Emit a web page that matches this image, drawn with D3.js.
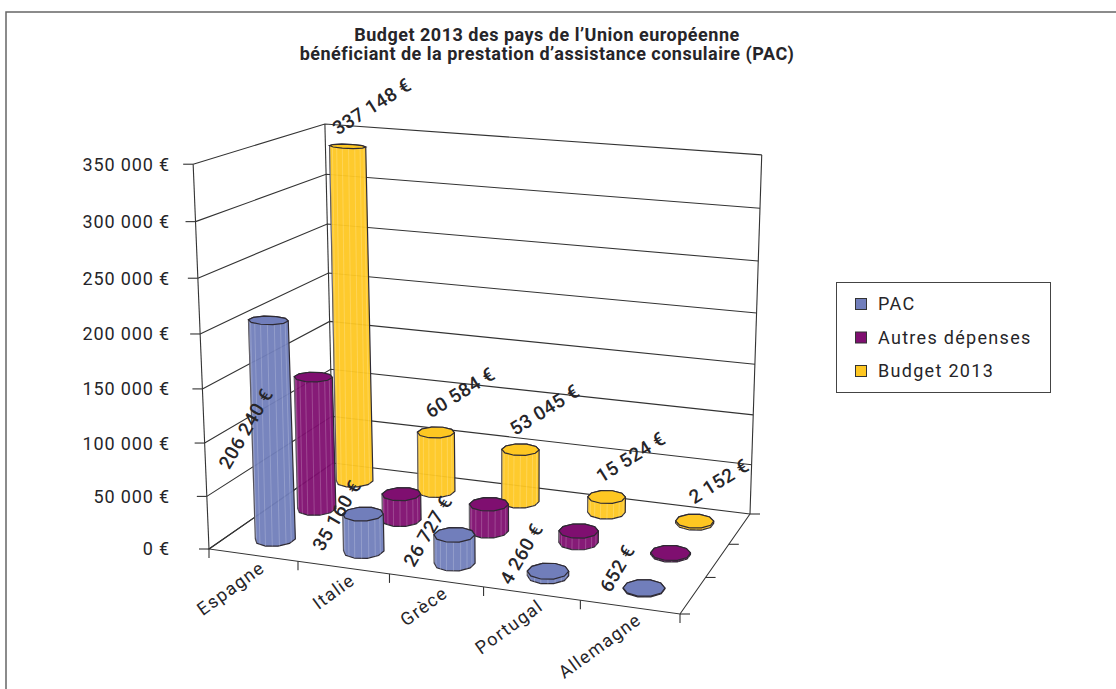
<!DOCTYPE html>
<html>
<head>
<meta charset="utf-8">
<script src="https://cdnjs.cloudflare.com/ajax/libs/d3/7.8.5/d3.min.js"></script>
<style>
  html, body { margin: 0; padding: 0; background: #fff; }
  svg { display: block; }
  text { font-family: Roboto, sans-serif; fill: #262529; }
</style>
</head>
<body>
<div id="chart"></div>
<script>
const titleLines = ["Budget 2013 des pays de l’Union européenne", "bénéficiant de la prestation d’assistance consulaire (PAC)"];
const countries = ["Espagne", "Italie", "Grèce", "Portugal", "Allemagne"];
const seriesNames = ["PAC", "Autres dépenses", "Budget 2013"];
const pacValues = [206240, 35160, 26727, 4260, 652];
const autresValues = [130908, 25424, 26318, 11264, 1500];
const budgetValues = [337148, 60584, 53045, 15524, 2152];
const seriesValues = [pacValues, autresValues, budgetValues];
const seriesColors = ["#717ebb", "#7f0f70", "#fec722"];
const valueTicks = [0, 50000, 100000, 150000, 200000, 250000, 300000, 350000];

const width = 1116, height = 689;
const euro = d => d3.format(",")(d).replace(/,/g, " ") + " €";

const svg = d3.select("#chart").append("svg").attr("width", width).attr("height", height);

// frame, no right or bottom side in the original
svg.append("path").attr("d", "M6,689V12H1116").attr("fill", "none").attr("stroke", "#666").attr("stroke-width", 1.5);

svg.append("g").selectAll("text").data(titleLines).join("text")
  .attr("x", 547).attr("y", (d, i) => 41 + i * 19)
  .attr("text-anchor", "middle")
  .attr("font-size", 18).attr("font-weight", 700).attr("letter-spacing", 0.5)
  .text(d => d);

// scales give chart space: u along countries, v into the depth, w up
const uScale = d3.scaleBand().domain(countries).range([0, 1]);
const vScale = d3.scaleBand().domain(seriesNames).range([0, 1]);
const wScale = d3.scaleLinear().domain([0, 350000]).range([0, 1]);

// floor corners on the page, the rest of the perspective follows from them
const f0 = [209, 549], f1 = [680, 614], f2 = [750, 514], f3 = [333, 463];
const dx1 = f1[0] - f2[0], dx2 = f3[0] - f2[0], sx = f0[0] - f1[0] + f2[0] - f3[0];
const dy1 = f1[1] - f2[1], dy2 = f3[1] - f2[1], sy = f0[1] - f1[1] + f2[1] - f3[1];
const det = dx1 * dy2 - dx2 * dy1;
const g = (sx * dy2 - dx2 * sy) / det;
const h = (dx1 * sy - sx * dy1) / det;
const pu = [f1[0] - f0[0] + g * f1[0], f1[1] - f0[1] + g * f1[1], g];
const pv = [f3[0] - f0[0] + h * f3[0], f3[1] - f0[1] + h * f3[1], h];
const pw = [-25.5, -393, -0.05];

function project(u, v, w) {
  const d = 1 + pu[2] * u + pv[2] * v + pw[2] * w;
  return [
    (f0[0] + pu[0] * u + pv[0] * v + pw[0] * w) / d,
    (f0[1] + pu[1] * u + pv[1] * v + pw[1] * w) / d
  ];
}

const line = d3.line();
const walls = svg.append("g").attr("fill", "none").attr("stroke", "#333").attr("stroke-width", 1.1);

// walls and gridlines
valueTicks.forEach(t => {
  const w = wScale(t);
  walls.append("path").attr("d", line([project(0, 0, w), project(0, 1, w), project(1, 1, w)]));
  const a = project(0, 0, w);
  walls.append("path").attr("d", line([a, [a[0] - 10, a[1]]]));
});
[[0, 0], [0, 1], [1, 1]].forEach(c => {
  walls.append("path").attr("d", line([project(c[0], c[1], 0), project(c[0], c[1], 1)]));
});

// floor edges and ticks
walls.append("path").attr("d", line([project(0, 1, 0), project(0, 0, 0), project(1, 0, 0), project(1, 1, 0)]));
d3.range(countries.length + 1).forEach(i => {
  const a = project(i / countries.length, 0, 0);
  walls.append("path").attr("d", line([a, [a[0], a[1] + 9]]));
});
d3.range(seriesNames.length + 1).forEach(i => {
  const a = project(1, i / seriesNames.length, 0);
  walls.append("path").attr("d", line([a, [a[0] + 10, a[1]]]));
});

svg.append("g").selectAll("text").data(valueTicks).join("text")
  .attr("x", 170).attr("y", d => project(0, 0, wScale(d))[1])
  .attr("dy", "0.36em").attr("text-anchor", "end")
  .attr("font-size", 18).attr("letter-spacing", 0.85)
  .text(euro);

svg.append("g").selectAll("text").data(countries).join("text")
  .attr("text-anchor", "end").attr("dy", "0.36em")
  .attr("font-size", 18).attr("letter-spacing", 1.3)
  .attr("transform", d => {
    const p = project(uScale(d) + uScale.bandwidth() / 2, 0, 0);
    return `translate(${p[0] + 9},${p[1] + 10}) rotate(-36)`;
  })
  .text(d => d);

// cylinders, back row first
const ru = 0.041, rv = 0.075, sides = 10, stripes = 18;
const ring = d3.range(sides).map(i => (i + 0.5) / sides * 2 * Math.PI);
const stripeRing = d3.range(stripes).map(i => (i + 0.5) / stripes * 2 * Math.PI).filter(t => Math.sin(t) < 0);

const bars = svg.append("g");
[2, 1, 0].forEach(s => {
  countries.forEach((name, c) => {
    const cu = uScale(name) + uScale.bandwidth() / 2;
    const cv = vScale(seriesNames[s]) + vScale.bandwidth() / 2;
    const top = wScale(seriesValues[s][c]);
    // caps look flatter higher up in the original than the projection alone gives
    const at = (t, w) => project(cu + ru * Math.cos(t), cv + rv * (1 - 0.4 * w) * Math.sin(t), w);
    const low = ring.map(t => at(t, 0)), high = ring.map(t => at(t, top));
    const bar = bars.append("g");
    bar.append("path")
      .attr("d", line(d3.polygonHull(low.concat(high))) + "Z")
      .attr("fill", seriesColors[s]).attr("fill-opacity", 0.95)
      .attr("stroke", "#2e2a33").attr("stroke-width", 1.2);
    stripeRing.forEach(t => {
      bar.append("path").attr("d", line([at(t, 0), at(t, top)]))
        .attr("stroke", "#fff").attr("stroke-opacity", 0.25).attr("stroke-width", 0.8);
    });
    bar.append("path")
      .attr("d", line(high) + "Z")
      .attr("fill", seriesColors[s])
      .attr("stroke", "#2e2a33").attr("stroke-width", 1.2);
  });
});

// value labels, only the first and last series have them
const labelFont = t => t.attr("font-size", 19).attr("font-weight", 500).attr("letter-spacing", 0.4)
  .attr("text-anchor", "middle").attr("dy", "0.36em");

svg.append("g").selectAll("text").data(countries).join("text")
  .call(labelFont)
  .attr("transform", (d, i) => {
    const p = project(uScale(d) + uScale.bandwidth() / 2, vScale(seriesNames[2]) + vScale.bandwidth() / 2, wScale(budgetValues[i]));
    return `translate(${p[0] + 24},${p[1] - 40}) rotate(-32)`;
  })
  .text((d, i) => euro(budgetValues[i]));

svg.append("g").selectAll("text").data(countries).join("text")
  .call(labelFont)
  .attr("transform", (d, i) => {
    const p = project(uScale(d) + uScale.bandwidth() / 2, vScale(seriesNames[0]) + vScale.bandwidth() / 2, wScale(pacValues[i]) * 0.42);
    return `translate(${p[0] - 27},${p[1] - 20}) rotate(-60)`;
  })
  .text((d, i) => euro(pacValues[i]));

// legend
const legend = svg.append("g");
legend.append("rect").attr("x", 836.5).attr("y", 282.5).attr("width", 214).attr("height", 110)
  .attr("fill", "#fff").attr("stroke", "#444").attr("stroke-width", 1);
const legendY = d3.scalePoint().domain(seriesNames).range([304, 371]);
legend.selectAll("rect.swatch").data(seriesNames).join("rect")
  .attr("class", "swatch")
  .attr("x", 855.5).attr("y", d => legendY(d) - 5.5).attr("width", 11).attr("height", 11)
  .attr("fill", (d, i) => seriesColors[i]).attr("stroke", "#333").attr("stroke-width", 1);
legend.selectAll("text").data(seriesNames).join("text")
  .attr("x", 878).attr("y", d => legendY(d)).attr("dy", "0.36em")
  .attr("font-size", 18).attr("letter-spacing", 1.3)
  .text(d => d);
</script>
</body>
</html>
